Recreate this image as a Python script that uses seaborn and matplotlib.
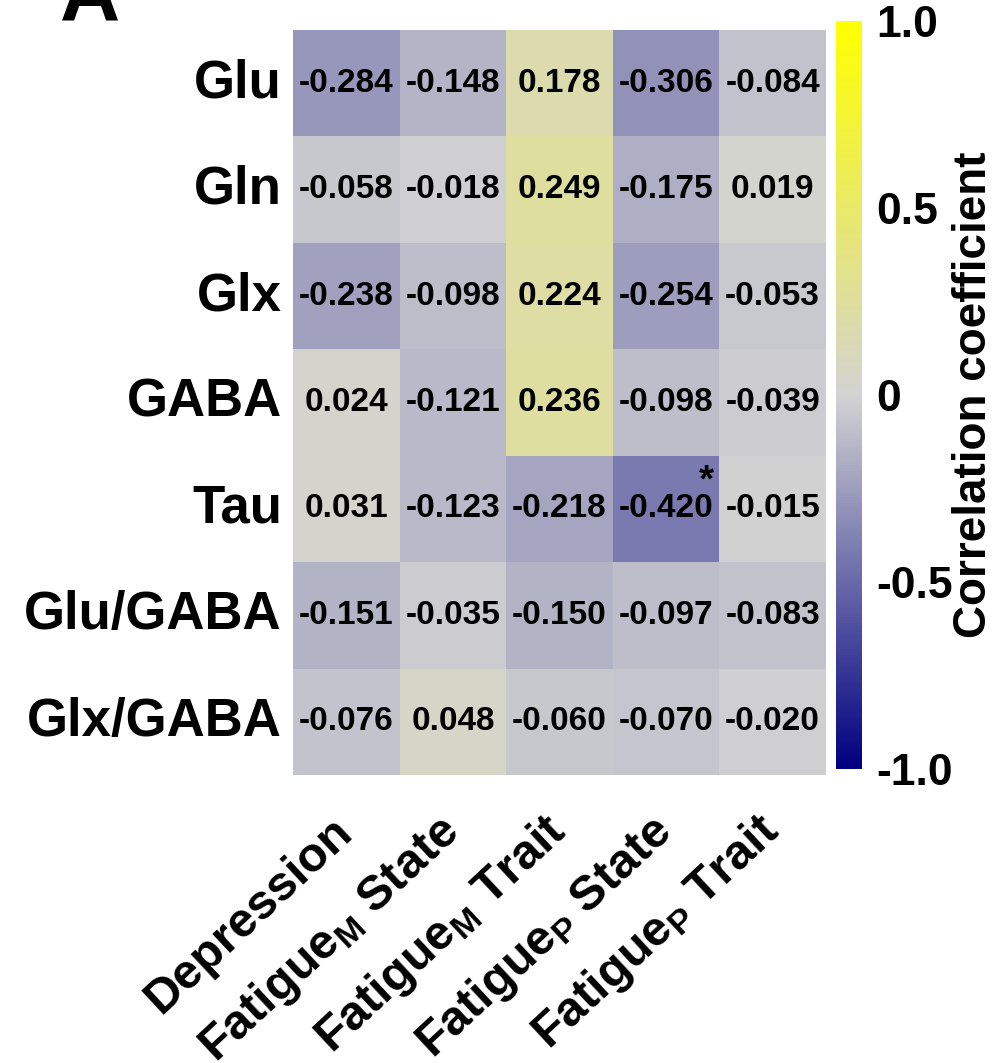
import numpy as np
import pandas as pd
import matplotlib.pyplot as plt
import seaborn as sns
from matplotlib.colors import LinearSegmentedColormap

# Metabolites (rows) and clinical scores (columns)
metabolites = ["Glu", "Gln", "Glx", "GABA", "Tau", "Glu/GABA", "Glx/GABA"]
scores = [
    "Depression",
    r"Fatigue$_\mathregular{M}$ State",
    r"Fatigue$_\mathregular{M}$ Trait",
    r"Fatigue$_\mathregular{P}$ State",
    r"Fatigue$_\mathregular{P}$ Trait",
]

depression = [-0.284, -0.058, -0.238, 0.024, 0.031, -0.151, -0.076]
fatigue_m_state = [-0.148, -0.018, -0.098, -0.121, -0.123, -0.035, 0.048]
fatigue_m_trait = [0.178, 0.249, 0.224, 0.236, -0.218, -0.150, -0.060]
fatigue_p_state = [-0.306, -0.175, -0.254, -0.098, -0.420, -0.097, -0.070]
fatigue_p_trait = [-0.084, 0.019, -0.053, -0.039, -0.015, -0.083, -0.020]

# cells with p < 0.05
significant = [("Tau", r"Fatigue$_\mathregular{P}$ State")]

df = pd.DataFrame(
    np.column_stack([depression, fatigue_m_state, fatigue_m_trait,
                     fatigue_p_state, fatigue_p_trait]),
    index=metabolites, columns=scores,
)
annot = df.map(lambda v: f"{v:.3f}")

sns.set_theme(style="white", rc={
    "text.color": "black", "axes.labelcolor": "black",
    "xtick.color": "black", "ytick.color": "black",
})
plt.rcParams["font.family"] = ["Liberation Sans", "DejaVu Sans"]
plt.rcParams["font.weight"] = "bold"
plt.rcParams["mathtext.default"] = "regular"

cmap = LinearSegmentedColormap.from_list("corr", ["#000080", "#D3D3D3", "#FFFF00"])

fig = plt.figure(figsize=(9.98, 10.63), dpi=100)
ax = fig.add_axes([0.2936, 0.271, 0.534, 0.7008])
cax = fig.add_axes([0.8377, 0.277, 0.026, 0.703])

sns.heatmap(
    df, ax=ax, cbar_ax=cax, cmap=cmap, vmin=-1, vmax=1,
    annot=annot, fmt="",
    annot_kws=dict(size=24, weight="bold", color="black"),
)

# significance stars
for r, c in significant:
    i = metabolites.index(r)
    j = scores.index(c)
    ax.text(j + 0.88, i + 0.24, "*", ha="center", va="center",
            fontsize=28, fontweight="bold", color="black")

ax.tick_params(axis="y", length=0, pad=8)
ax.tick_params(axis="x", length=0, pad=36)
ax.set_yticklabels(metabolites, rotation=0, fontsize=38, fontweight="bold")
ax.set_xticklabels(scores, rotation=43, ha="right", va="center",
                   rotation_mode="anchor", fontsize=35, fontweight="bold")
ax.set_xlabel("")
ax.set_ylabel("")

cbar = ax.collections[0].colorbar
cbar.set_ticks([1.0, 0.5, 0, -0.5, -1.0])
cbar.set_ticklabels(["1.0", "0.5", "0", "-0.5", "-1.0"])
cbar.ax.tick_params(labelsize=32, length=5, color="white", direction="in", pad=10)
for t in cbar.ax.get_yticklabels():
    t.set_fontweight("bold")
cbar.outline.set_visible(False)
cbar.set_label("Correlation coefficient", fontsize=33, fontweight="bold", labelpad=0)

fig.text(0.06, 1 - 20 / 1063, "A", fontsize=60, fontweight="bold", va="baseline")

plt.savefig("out.png", dpi=100)
plt.close()
